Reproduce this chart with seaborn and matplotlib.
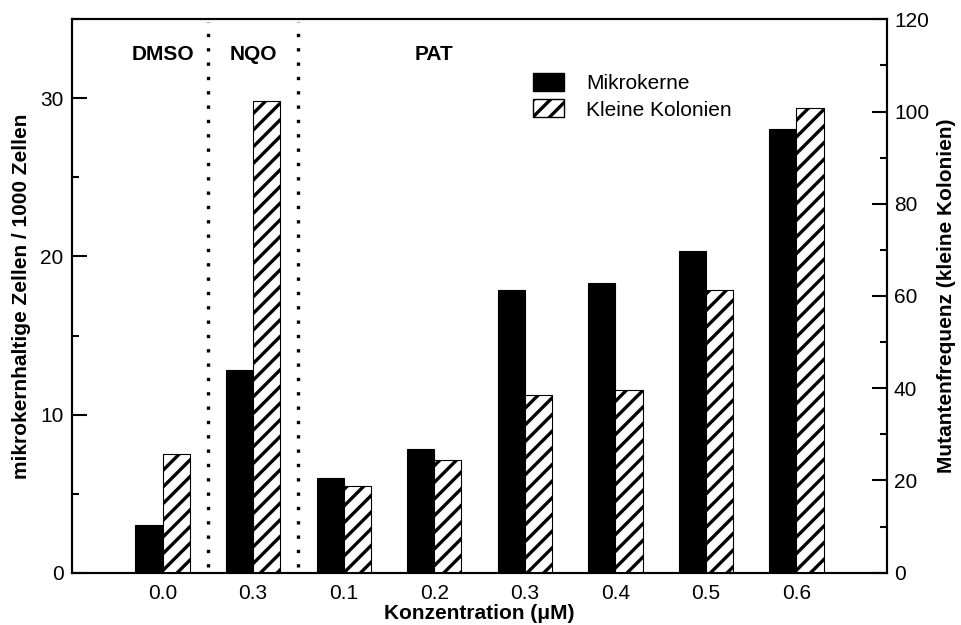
import numpy as np
import pandas as pd
import matplotlib
matplotlib.use("Agg")
import matplotlib.pyplot as plt
from matplotlib.patches import Patch
from matplotlib.ticker import MultipleLocator
import seaborn as sns

# Treatment concentrations (µM): DMSO control, NQO positive control, PAT series
concentrations = ["0.0", "0.3", "0.1", "0.2", "0.3", "0.4", "0.5", "0.6"]
# Micronucleated cells per 1000 cells (left axis)
micronuclei = [3.0, 12.85, 6.0, 7.8, 17.85, 18.35, 20.35, 28.05]
# Mutant frequency, small colonies (right axis)
small_colonies = [25.8, 102.3, 18.7, 24.5, 38.6, 39.6, 61.3, 100.7]
group_names = ["DMSO", "NQO", "PAT"]
series_names = ["Mikrokerne", "Kleine Kolonien"]

sns.set_style("ticks")
plt.rcParams["font.family"] = ["Liberation Sans", "DejaVu Sans"]
plt.rcParams["hatch.linewidth"] = 2.4
plt.rcParams["axes.linewidth"] = 1.5
for key in ("text.color", "axes.labelcolor", "xtick.color", "ytick.color",
            "axes.edgecolor"):
    plt.rcParams[key] = "black"

FS = 15
pos = np.arange(1, len(concentrations) + 1)
df = pd.DataFrame({"pos": pos, "mk": micronuclei, "kk": small_colonies})

fig = plt.figure(figsize=(9.61, 6.25), dpi=100)
ax = fig.add_axes([72 / 961, 1 - 572.7 / 625, (887 - 72) / 961, (572.7 - 19.3) / 625])
ax2 = ax.twinx()

sns.barplot(x=df["pos"] - 0.15, y=df["mk"], native_scale=True, width=0.3,
            color="black", saturation=1, edgecolor="black", linewidth=0.8,
            errorbar=None, ax=ax)
sns.barplot(x=df["pos"] + 0.15, y=df["kk"], native_scale=True, width=0.3,
            color="white", saturation=1, edgecolor="black", linewidth=0.8,
            hatch="//", errorbar=None, ax=ax2)

ax.set_xlim(0, len(concentrations) + 1)
ax.set_ylim(0, 35)
ax2.set_ylim(0, 120)

ax.set_xticks(pos)
ax.set_xticklabels(concentrations)
ax.tick_params(axis="x", length=0, pad=8, labelsize=FS)

ax.set_yticks([0, 10, 20, 30])
ax.yaxis.set_minor_locator(MultipleLocator(5))
ax.tick_params(axis="y", which="major", direction="in", length=10.5, width=1.5,
               labelsize=FS, pad=6, left=True, right=False)
ax.tick_params(axis="y", which="minor", direction="in", length=5, width=1.5,
               left=True, right=False)

ax2.set_yticks(np.arange(0, 121, 20))
ax2.yaxis.set_minor_locator(MultipleLocator(10))
ax2.tick_params(axis="y", which="major", direction="in", length=10.5, width=1.5,
                labelsize=FS, pad=5, left=False, right=True)
ax2.tick_params(axis="y", which="minor", direction="in", length=5, width=1.5,
                left=False, right=True)

for a in (ax, ax2):
    for s in a.spines.values():
        s.set_visible(True)
        s.set_linewidth(1.5)
        s.set_color("black")

ax.set_xlabel("Konzentration (μM)", fontsize=FS, fontweight="bold", labelpad=1)
ax.set_ylabel("mikrokernhaltige Zellen / 1000 Zellen", fontsize=FS,
              fontweight="bold", labelpad=7)
ax2.set_ylabel("Mutantenfrequenz (kleine Kolonien)", fontsize=FS,
               fontweight="bold", labelpad=6)

# Dotted separators between treatment groups
for xb in (1.5, 2.5):
    ax.axvline(xb, color="black", linewidth=2.4, linestyle=(0, (1, 3.3)),
               ymin=0.01, ymax=0.995)

for name, xg in zip(group_names, (1, 2, 4)):
    ax.text(xg, 32.8, name, ha="center", va="center", fontsize=FS,
            fontweight="bold")

handles = [Patch(facecolor="black", edgecolor="black", label=series_names[0]),
           Patch(facecolor="white", edgecolor="black", hatch="//",
                 label=series_names[1])]
fig.legend(handles=handles, loc="upper left",
           bbox_to_anchor=(533 / 961, 1 - 73 / 625), frameon=False,
           fontsize=FS, handlelength=1.5, handleheight=0.95,
           handletextpad=1.05, labelspacing=0.3, borderpad=0,
           borderaxespad=0)

fig.savefig("out.png", dpi=100)
